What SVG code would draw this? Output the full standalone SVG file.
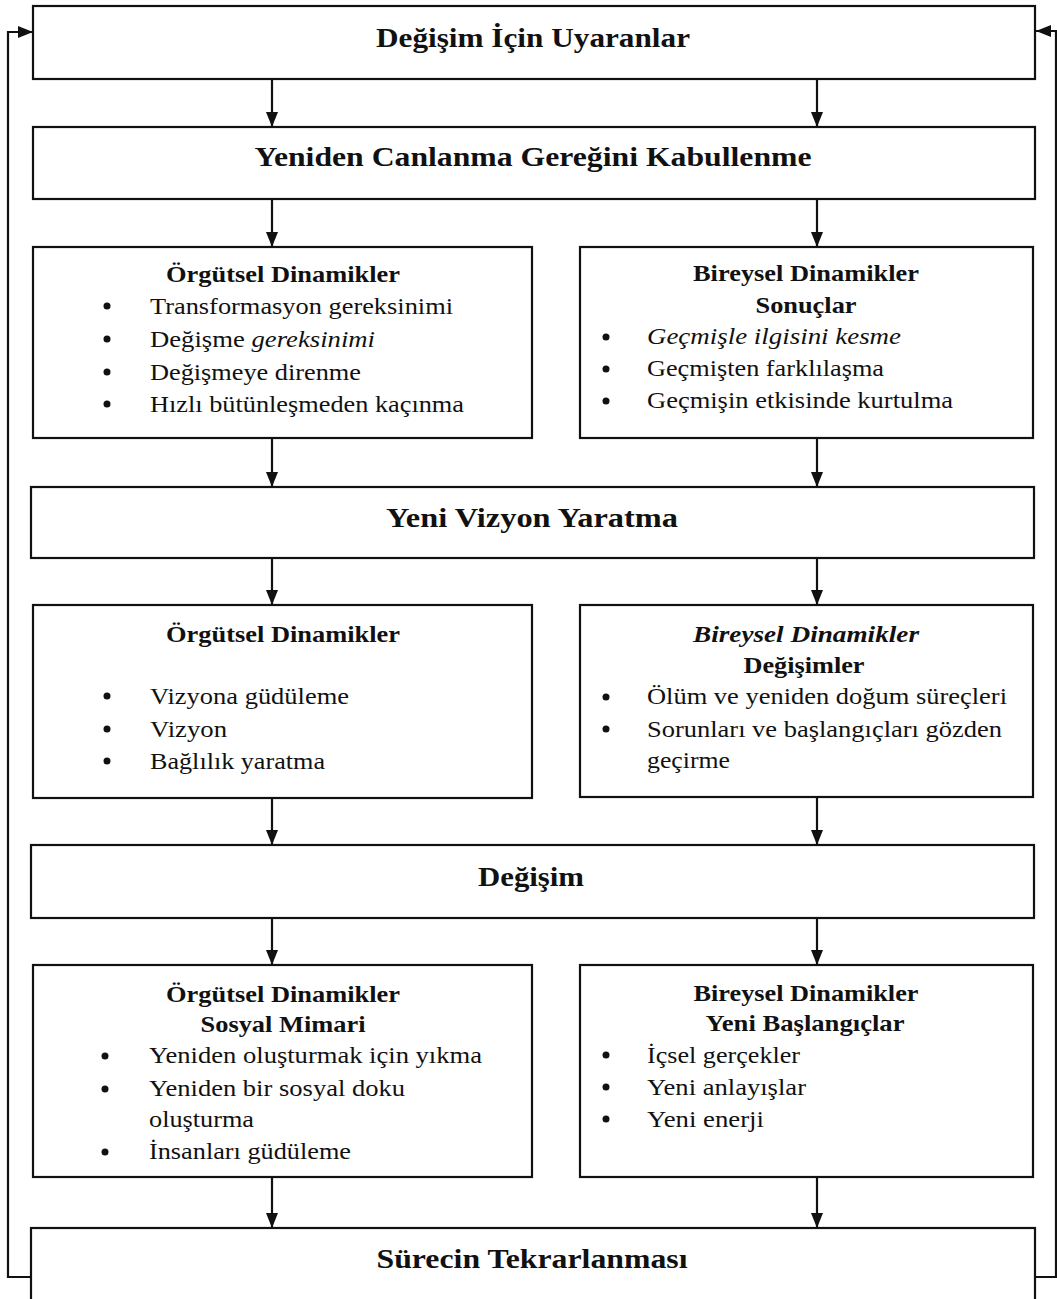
<svg xmlns="http://www.w3.org/2000/svg" width="1057" height="1299" viewBox="0 0 1057 1299" font-family="'Liberation Serif', 'Times New Roman', serif">
<defs>
<style>
.box{fill:none;stroke:#111;stroke-width:2.2}
.ln{fill:none;stroke:#111;stroke-width:2.2}
text{fill:#111}
.t{font-size:28px;font-weight:bold;text-anchor:middle}
.h{font-size:23px;font-weight:bold;text-anchor:middle}
.i{font-size:23px}
.it{font-style:italic}
.dot{fill:#111}
</style>
<marker id="ah" markerUnits="userSpaceOnUse" markerWidth="16" markerHeight="13" refX="15" refY="6.5" orient="auto">
<path d="M0,0.5 L15,6.5 L0,12.5 z" fill="#111"/>
</marker>
</defs>
<rect width="1057" height="1299" fill="#fff"/>

<g id="connectors">
<path class="ln" d="M272,79 V127" marker-end="url(#ah)"/>
<path class="ln" d="M817,79 V127" marker-end="url(#ah)"/>
<path class="ln" d="M272,199 V247" marker-end="url(#ah)"/>
<path class="ln" d="M817,199 V247" marker-end="url(#ah)"/>
<path class="ln" d="M272,438 V487" marker-end="url(#ah)"/>
<path class="ln" d="M817,438 V487" marker-end="url(#ah)"/>
<path class="ln" d="M272,558 V605" marker-end="url(#ah)"/>
<path class="ln" d="M817,558 V605" marker-end="url(#ah)"/>
<path class="ln" d="M272,798 V845" marker-end="url(#ah)"/>
<path class="ln" d="M817,798 V845" marker-end="url(#ah)"/>
<path class="ln" d="M272,918 V965" marker-end="url(#ah)"/>
<path class="ln" d="M817,918 V965" marker-end="url(#ah)"/>
<path class="ln" d="M272,1177 V1228" marker-end="url(#ah)"/>
<path class="ln" d="M817,1177 V1228" marker-end="url(#ah)"/>
<path class="ln" d="M31,1277 H8 V32 H33" marker-end="url(#ah)"/>
<path class="ln" d="M1035,1277 H1056 V31 H1036" marker-end="url(#ah)"/>
</g>

<g id="n1">
<rect class="box" x="33" y="6" width="1002" height="73"/>
<text class="t" x="533" y="47" textLength="314" lengthAdjust="spacingAndGlyphs">Değişim İçin Uyaranlar</text>
</g>

<g id="n2">
<rect class="box" x="33" y="127" width="1002" height="72"/>
<text class="t" x="533" y="166" textLength="557" lengthAdjust="spacingAndGlyphs">Yeniden Canlanma Gereğini Kabullenme</text>
</g>

<g id="n3a">
<rect class="box" x="33" y="247" width="499" height="191"/>
<text class="h" x="283" y="282" textLength="234" lengthAdjust="spacingAndGlyphs">Örgütsel Dinamikler</text>
<circle class="dot" cx="107" cy="306" r="3.5"/>
<circle class="dot" cx="107" cy="339" r="3.5"/>
<circle class="dot" cx="107" cy="372" r="3.5"/>
<circle class="dot" cx="107" cy="404" r="3.5"/>
<text class="i" x="150" y="314" textLength="303" lengthAdjust="spacingAndGlyphs">Transformasyon gereksinimi</text>
<text class="i" x="150" y="347" textLength="225" lengthAdjust="spacingAndGlyphs">Değişme <tspan class="it">gereksinimi</tspan></text>
<text class="i" x="150" y="380" textLength="211" lengthAdjust="spacingAndGlyphs">Değişmeye direnme</text>
<text class="i" x="150" y="412" textLength="314" lengthAdjust="spacingAndGlyphs">Hızlı bütünleşmeden kaçınma</text>
</g>

<g id="n3b">
<rect class="box" x="580" y="247" width="453" height="191"/>
<text class="h" x="806" y="281" textLength="226" lengthAdjust="spacingAndGlyphs">Bireysel Dinamikler</text>
<text class="h" x="806" y="313" textLength="101" lengthAdjust="spacingAndGlyphs">Sonuçlar</text>
<circle class="dot" cx="606" cy="337" r="3.5"/>
<circle class="dot" cx="606" cy="369" r="3.5"/>
<circle class="dot" cx="606" cy="401" r="3.5"/>
<text class="i it" x="647" y="344" textLength="254" lengthAdjust="spacingAndGlyphs">Geçmişle ilgisini kesme</text>
<text class="i" x="647" y="376" textLength="237" lengthAdjust="spacingAndGlyphs">Geçmişten farklılaşma</text>
<text class="i" x="647" y="408" textLength="306" lengthAdjust="spacingAndGlyphs">Geçmişin etkisinde kurtulma</text>
</g>

<g id="n4">
<rect class="box" x="31" y="487" width="1003" height="71"/>
<text class="t" x="532" y="527" textLength="292" lengthAdjust="spacingAndGlyphs">Yeni Vizyon Yaratma</text>
</g>

<g id="n5a">
<rect class="box" x="33" y="605" width="499" height="193"/>
<text class="h" x="283" y="642" textLength="234" lengthAdjust="spacingAndGlyphs">Örgütsel Dinamikler</text>
<circle class="dot" cx="107" cy="696" r="3.5"/>
<circle class="dot" cx="107" cy="729" r="3.5"/>
<circle class="dot" cx="107" cy="761" r="3.5"/>
<text class="i" x="150" y="704" textLength="199" lengthAdjust="spacingAndGlyphs">Vizyona güdüleme</text>
<text class="i" x="150" y="737" textLength="77" lengthAdjust="spacingAndGlyphs">Vizyon</text>
<text class="i" x="150" y="769" textLength="175" lengthAdjust="spacingAndGlyphs">Bağlılık yaratma</text>
</g>

<g id="n5b">
<rect class="box" x="580" y="605" width="453" height="192"/>
<text class="h it" x="806" y="642" textLength="226" lengthAdjust="spacingAndGlyphs">Bireysel Dinamikler</text>
<text class="h" x="804" y="673" textLength="121" lengthAdjust="spacingAndGlyphs">Değişimler</text>
<circle class="dot" cx="606" cy="697" r="3.5"/>
<circle class="dot" cx="606" cy="729" r="3.5"/>
<text class="i" x="647" y="704" textLength="360" lengthAdjust="spacingAndGlyphs">Ölüm ve yeniden doğum süreçleri</text>
<text class="i" x="647" y="737" textLength="355" lengthAdjust="spacingAndGlyphs">Sorunları ve başlangıçları gözden</text>
<text class="i" x="647" y="768" textLength="83" lengthAdjust="spacingAndGlyphs">geçirme</text>
</g>

<g id="n6">
<rect class="box" x="31" y="845" width="1003" height="73"/>
<text class="t" x="531" y="886" textLength="106" lengthAdjust="spacingAndGlyphs">Değişim</text>
</g>

<g id="n7a">
<rect class="box" x="33" y="965" width="499" height="212"/>
<text class="h" x="283" y="1002" textLength="234" lengthAdjust="spacingAndGlyphs">Örgütsel Dinamikler</text>
<text class="h" x="283" y="1032" textLength="165" lengthAdjust="spacingAndGlyphs">Sosyal Mimari</text>
<circle class="dot" cx="105" cy="1056" r="3.5"/>
<circle class="dot" cx="105" cy="1089" r="3.5"/>
<circle class="dot" cx="105" cy="1152" r="3.5"/>
<text class="i" x="149" y="1063" textLength="333" lengthAdjust="spacingAndGlyphs">Yeniden oluşturmak için yıkma</text>
<text class="i" x="149" y="1096" textLength="256" lengthAdjust="spacingAndGlyphs">Yeniden bir sosyal doku</text>
<text class="i" x="149" y="1127" textLength="105" lengthAdjust="spacingAndGlyphs">oluşturma</text>
<text class="i" x="149" y="1159" textLength="202" lengthAdjust="spacingAndGlyphs">İnsanları güdüleme</text>
</g>

<g id="n7b">
<rect class="box" x="580" y="965" width="453" height="212"/>
<text class="h" x="806" y="1001" textLength="225" lengthAdjust="spacingAndGlyphs">Bireysel Dinamikler</text>
<text class="h" x="805" y="1031" textLength="199" lengthAdjust="spacingAndGlyphs">Yeni Başlangıçlar</text>
<circle class="dot" cx="606" cy="1055" r="3.5"/>
<circle class="dot" cx="606" cy="1087" r="3.5"/>
<circle class="dot" cx="606" cy="1119" r="3.5"/>
<text class="i" x="647" y="1063" textLength="153" lengthAdjust="spacingAndGlyphs">İçsel gerçekler</text>
<text class="i" x="647" y="1095" textLength="159" lengthAdjust="spacingAndGlyphs">Yeni anlayışlar</text>
<text class="i" x="647" y="1127" textLength="117" lengthAdjust="spacingAndGlyphs">Yeni enerji</text>
</g>

<g id="n8">
<rect class="box" x="31" y="1228" width="1004" height="90"/>
<text class="t" x="532" y="1268" textLength="311" lengthAdjust="spacingAndGlyphs">Sürecin Tekrarlanması</text>
</g>
</svg>
